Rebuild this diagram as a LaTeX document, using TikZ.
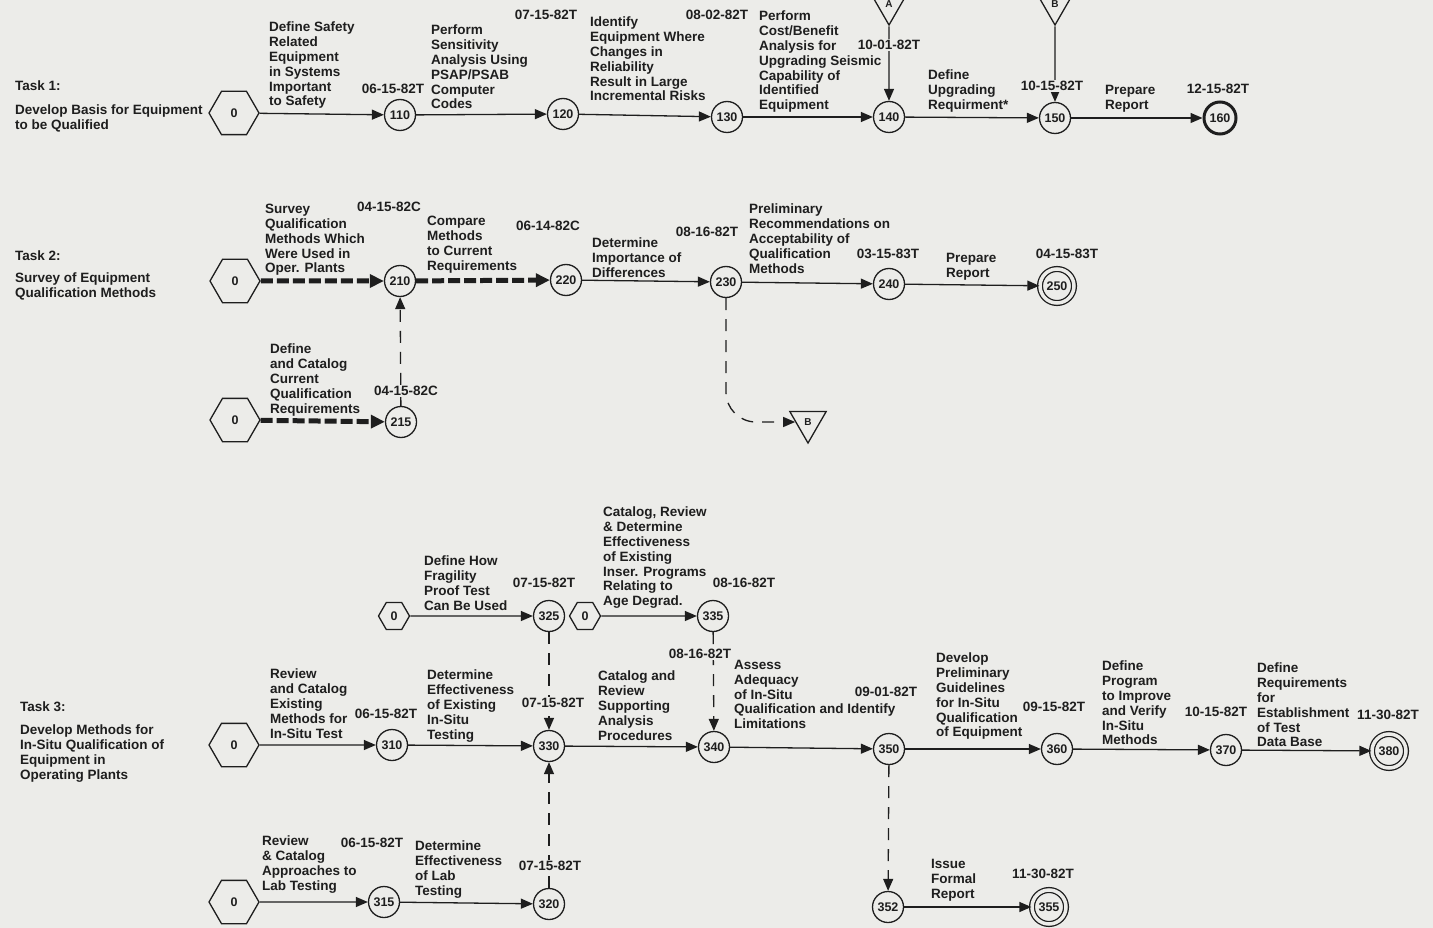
\documentclass[tikz,border=0pt]{standalone}
\usepackage{fontspec}
\setmainfont{Liberation Sans}
\usetikzlibrary{shapes.geometric,arrows.meta}
\definecolor{paper}{RGB}{236,236,233}
\definecolor{ink}{RGB}{30,30,30}
\tikzset{
	evt/.style={draw=ink, circle, minimum size=31pt, inner sep=0pt, line width=1.3pt, text=ink, font=\fontsize{12.5}{13}\selectfont\bfseries},
	evtend/.style={evt, line width=3pt, minimum size=32pt},
	evtdbl/.style={evt, double=paper, double distance=3.5pt, minimum size=34pt},
	hexa/.style={draw=ink, regular polygon, regular polygon sides=6, minimum size=50pt, inner sep=0pt, line width=1.3pt, text=ink, font=\fontsize{12.5}{13}\selectfont\bfseries},
	hexs/.style={hexa, minimum size=31pt},
	flag/.style={draw=ink, regular polygon, regular polygon sides=3, shape border rotate=180, minimum size=42pt, inner sep=0pt, line width=1.3pt, text=ink, font=\fontsize{10}{10}\selectfont\bfseries},
	act/.style={align=left, anchor=north west, inner sep=0pt, text=ink, font=\fontsize{13.5}{14.8}\selectfont\bfseries},
	due/.style={fill=paper, inner sep=1.5pt, text=ink, font=\fontsize{13.5}{14.8}\selectfont\bfseries},
	arr/.style={draw=ink, line width=1.3pt, -{Triangle[length=12pt,width=10pt]}},
	crit/.style={draw=ink, line width=5pt, dash pattern=on 12pt off 4pt, -{Triangle[length=14pt,width=13pt]}},
	dsh/.style={arr, dash pattern=on 12pt off 9pt},
}
\begin{document}
\begin{tikzpicture}[x=1pt,y=1pt]
	\fill [paper] (0,0) rectangle (1433,-928);
	\useasboundingbox (0,0) rectangle (1433,-928);
	\node [hexa] (h1) at (234,-113) {0};
	\node [evt] (n110) at (400,-115) {110};
	\node [evt] (n120) at (563,-114) {120};
	\node [evt] (n130) at (727,-117) {130};
	\node [evt] (n140) at (889,-117) {140};
	\node [evt] (n150) at (1055,-118) {150};
	\node [evtend] (n160) at (1220,-118) {160};
	\node [flag] (tA) at (889,-4) {A};
	\node [flag] (tB) at (1055,-4) {B};
	\node [hexa] (h2) at (235,-281) {0};
	\node [evt] (n210) at (400,-281) {210};
	\node [evt] (n220) at (566,-280) {220};
	\node [evt] (n230) at (726,-282) {230};
	\node [evt] (n240) at (889,-284) {240};
	\node [evtdbl] (n250) at (1057,-286) {250};
	\node [hexa] (h2b) at (235,-420) {0};
	\node [evt] (n215) at (401,-422) {215};
	\node [flag] (tB2) at (808,-422) {B};
	\node [hexa] (h3) at (234,-745) {0};
	\node [evt] (n310) at (392,-745) {310};
	\node [evt] (n330) at (549,-746) {330};
	\node [evt] (n340) at (714,-747) {340};
	\node [evt] (n350) at (889,-749) {350};
	\node [evt] (n360) at (1057,-749) {360};
	\node [evt] (n370) at (1226,-750) {370};
	\node [evtdbl] (n380) at (1389,-751) {380};
	\node [hexs] (h3a) at (394,-616) {0};
	\node [evt] (n325) at (549,-616) {325};
	\node [hexs] (h3b) at (585,-616) {0};
	\node [evt] (n335) at (713,-616) {335};
	\node [hexa] (h3c) at (234,-902) {0};
	\node [evt] (n315) at (384,-902) {315};
	\node [evt] (n320) at (549,-904) {320};
	\node [evt] (n352) at (888,-907) {352};
	\node [evtdbl] (n355) at (1049,-907) {355};
	\draw [arr] (h1) -- (n110);
	\draw [arr] (n110) -- (n120);
	\draw [arr] (n120) -- (n130);
	\draw [arr] (n130) -- (n140);
	\draw [arr] (n140) -- (n150);
	\draw [arr] (n150) -- (n160);
	\draw [arr] (tA) -- (n140);
	\draw [arr] (tB) -- (n150);
	\draw [crit] (h2) -- (n210);
	\draw [crit] (n210) -- (n220);
	\draw [arr] (n220) -- (n230);
	\draw [arr] (n230) -- (n240);
	\draw [arr] (n240) -- (n250);
	\draw [crit] (h2b) -- (n215);
	\draw [dsh] (n215) -- (n210);
	\draw [dsh, rounded corners=30pt] (n230) |- (tB2);
	\draw [arr] (h3) -- (n310);
	\draw [arr] (n310) -- (n330);
	\draw [arr] (n330) -- (n340);
	\draw [arr] (n340) -- (n350);
	\draw [arr] (n350) -- (n360);
	\draw [arr] (n360) -- (n370);
	\draw [arr] (n370) -- (n380);
	\draw [arr] (h3a) -- (n325);
	\draw [arr] (h3b) -- (n335);
	\draw [dsh] (n325) -- (n330);
	\draw [dsh] (n335) -- (n340);
	\draw [dsh] (n320) -- (n330);
	\draw [arr] (h3c) -- (n315);
	\draw [arr] (n315) -- (n320);
	\draw [dsh] (n350) -- (n352);
	\draw [arr] (n352) -- (n355);
	\node [act] (task1) at (15,-81) {Task 1:\\[8.5pt]Develop Basis for Equipment\\to be Qualified};
	\node [act] (l110) at (269,-22) {Define Safety\\Related\\Equipment\\in Systems\\Important\\to Safety};
	\node [due] (d110) at (393,-89) {06-15-82T};
	\node [act] (l120) at (431,-25) {Perform\\Sensitivity\\Analysis Using\\PSAP/PSAB\\Computer\\Codes};
	\node [due] (d120) at (546,-15) {07-15-82T};
	\node [act] (l130) at (590,-17) {Identify\\Equipment Where\\Changes in\\Reliability\\Result in Large\\Incremental Risks};
	\node [due] (d130) at (717,-15) {08-02-82T};
	\node [act] (l140) at (759,-11) {Perform\\Cost/Benefit\\Analysis for\\Upgrading Seismic\\Capability of\\Identified\\Equipment};
	\node [due] (d140) at (889,-45) {10-01-82T};
	\node [act] (l150) at (928,-70) {Define\\Upgrading\\Requirment*};
	\node [due] (d150) at (1052,-86) {10-15-82T};
	\node [act] (l160) at (1105,-85) {Prepare\\Report};
	\node [due] (d160) at (1218,-89) {12-15-82T};
	\node [act] (task2) at (15,-251) {Task 2:\\[7pt]Survey of Equipment\\Qualification Methods};
	\node [act] (l210) at (265,-204) {Survey\\Qualification\\Methods Which\\Were Used in\\Oper. Plants};
	\node [due] (d210) at (389,-207) {04-15-82C};
	\node [act] (l220) at (427,-216) {Compare\\Methods\\to Current\\Requirements};
	\node [due] (d220) at (548,-226) {06-14-82C};
	\node [act] (l230) at (592,-238) {Determine\\Importance of\\Differences};
	\node [due] (d230) at (707,-232) {08-16-82T};
	\node [act] (l240) at (749,-204) {Preliminary\\Recommendations on\\Acceptability of\\Qualification\\Methods};
	\node [due] (d240) at (888,-254) {03-15-83T};
	\node [act] (l250) at (946,-253) {Prepare\\Report};
	\node [due] (d250) at (1067,-254) {04-15-83T};
	\node [act] (l215) at (270,-344) {Define\\and Catalog\\Current\\Qualification\\Requirements};
	\node [due] (d215) at (406,-391) {04-15-82C};
	\node [act] (task3) at (20,-702) {Task 3:\\[8pt]Develop Methods for\\In-Situ Qualification of\\Equipment in\\Operating Plants};
	\node [act] (l325) at (424,-556) {Define How\\Fragility\\Proof Test\\Can Be Used};
	\node [due] (d325) at (544,-583) {07-15-82T};
	\node [act] (l335) at (603,-507) {Catalog, Review\\\& Determine\\Effectiveness\\of Existing\\Inser. Programs\\Relating to\\Age Degrad.};
	\node [due] (d335) at (744,-583) {08-16-82T};
	\node [act] (l310) at (270,-669) {Review\\and Catalog\\Existing\\Methods for\\In-Situ Test};
	\node [due] (d310) at (386,-714) {06-15-82T};
	\node [act] (l330) at (427,-670) {Determine\\Effectiveness\\of Existing\\In-Situ\\Testing};
	\node [due] (d330) at (553,-703) {07-15-82T};
	\node [act] (l340) at (598,-671) {Catalog and\\Review\\Supporting\\Analysis\\Procedures};
	\node [due] (d340) at (700,-654) {08-16-82T};
	\node [act] (l350) at (734,-660) {Assess\\Adequacy\\of In-Situ\\Qualification and Identify\\Limitations};
	\node [due] (d350) at (886,-692) {09-01-82T};
	\node [act] (l360) at (936,-653) {Develop\\Preliminary\\Guidelines\\for In-Situ\\Qualification\\of Equipment};
	\node [due] (d360) at (1054,-707) {09-15-82T};
	\node [act] (l370) at (1102,-661) {Define\\Program\\to Improve\\and Verify\\In-Situ\\Methods};
	\node [due] (d370) at (1216,-712) {10-15-82T};
	\node [act] (l380) at (1257,-663) {Define\\Requirements\\for\\Establishment\\of Test\\Data Base};
	\node [due] (d380) at (1388,-715) {11-30-82T};
	\node [act] (l315) at (262,-836) {Review\\\& Catalog\\Approaches to\\Lab Testing};
	\node [due] (d315) at (372,-843) {06-15-82T};
	\node [act] (l320) at (415,-841) {Determine\\Effectiveness\\of Lab\\Testing};
	\node [due] (d320) at (550,-866) {07-15-82T};
	\node [act] (l355) at (931,-859) {Issue\\Formal\\Report};
	\node [due] (d355) at (1043,-874) {11-30-82T};
\end{tikzpicture}
\end{document}
